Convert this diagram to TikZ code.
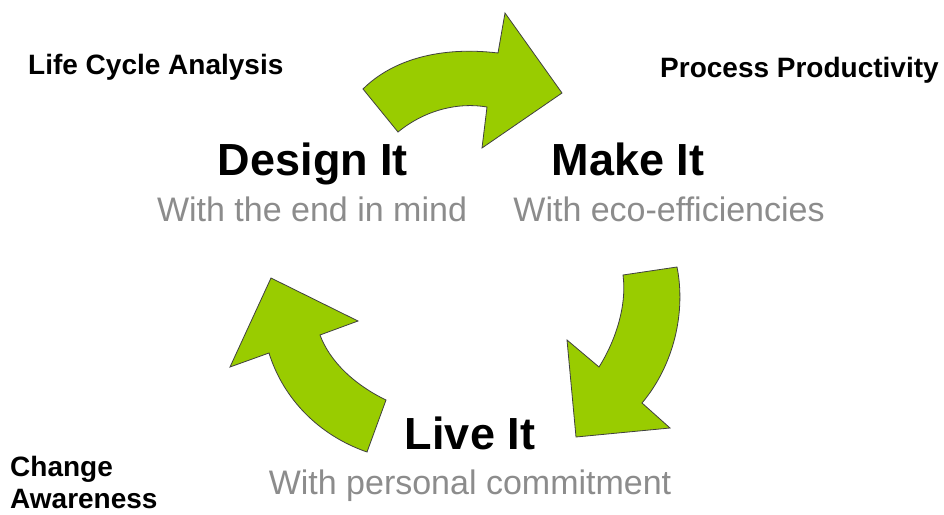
\documentclass[tikz,border=0pt]{standalone}
\usepackage{fontspec}
\setmainfont{Liberation Sans}
\begin{document}
\begin{tikzpicture}[x=1pt,y=-1pt,
  cyclearrow/.style={fill=arrowgreen,draw=black!75,line width=0.8pt,line join=miter},
  smalllabel/.style={inner sep=0pt,font=\fontsize{28}{32}\selectfont\bfseries},
  steptitle/.style={inner sep=0pt,anchor=base,font=\fontsize{45}{50}\selectfont\bfseries},
  stepnote/.style={inner sep=0pt,anchor=base,text=notegray,font=\fontsize{34}{38}\selectfont}]
\definecolor{arrowgreen}{HTML}{99CC00}
\definecolor{notegray}{HTML}{8C8C8C}
\useasboundingbox[fill=white] (0,0) rectangle (944,514);

% curved arrow: Design -> Make
\path[cyclearrow] (363,89) .. controls (392,60) and (440,46) .. (498,53)
  -- (505,13) -- (562,93) -- (482,148) -- (487,107)
  .. controls (458,102) and (425,110) .. (398,132) -- cycle;

% curved arrow: Make -> Live
\path[cyclearrow] (623,275) -- (677,267)
  .. controls (686,312) and (674,365) .. (642,403)
  -- (670,428) -- (576,437) -- (567,340) -- (599,367)
  .. controls (616,340) and (627,305) .. cycle;

% curved arrow: Live -> Design
\path[cyclearrow] (367,452) -- (386,400)
  .. controls (355,385) and (330,362) .. (320,335)
  -- (358,321) -- (271,278) -- (230,367) -- (269,353)
  .. controls (283,398) and (318,435) .. cycle;

% corner labels
\node[smalllabel,anchor=base west] (lca) at (28,74) {Life Cycle Analysis};
\node[smalllabel,anchor=base west] (pp) at (660,77) {Process Productivity};
\node[smalllabel,anchor=base west,align=left] (ca) at (10,508) {Change\\Awareness};

% step titles and notes
\node[steptitle] (design) at (313,175) {Design It};
\node[stepnote] (designnote) at (312,221) {With the end in mind};
\node[steptitle] (make) at (628,175) {Make It};
\node[stepnote] (makenote) at (669,221) {With eco-efficiencies};
\node[steptitle] (live) at (470,449) {Live It};
\node[stepnote] (livenote) at (470,494) {With personal commitment};
\end{tikzpicture}
\end{document}
